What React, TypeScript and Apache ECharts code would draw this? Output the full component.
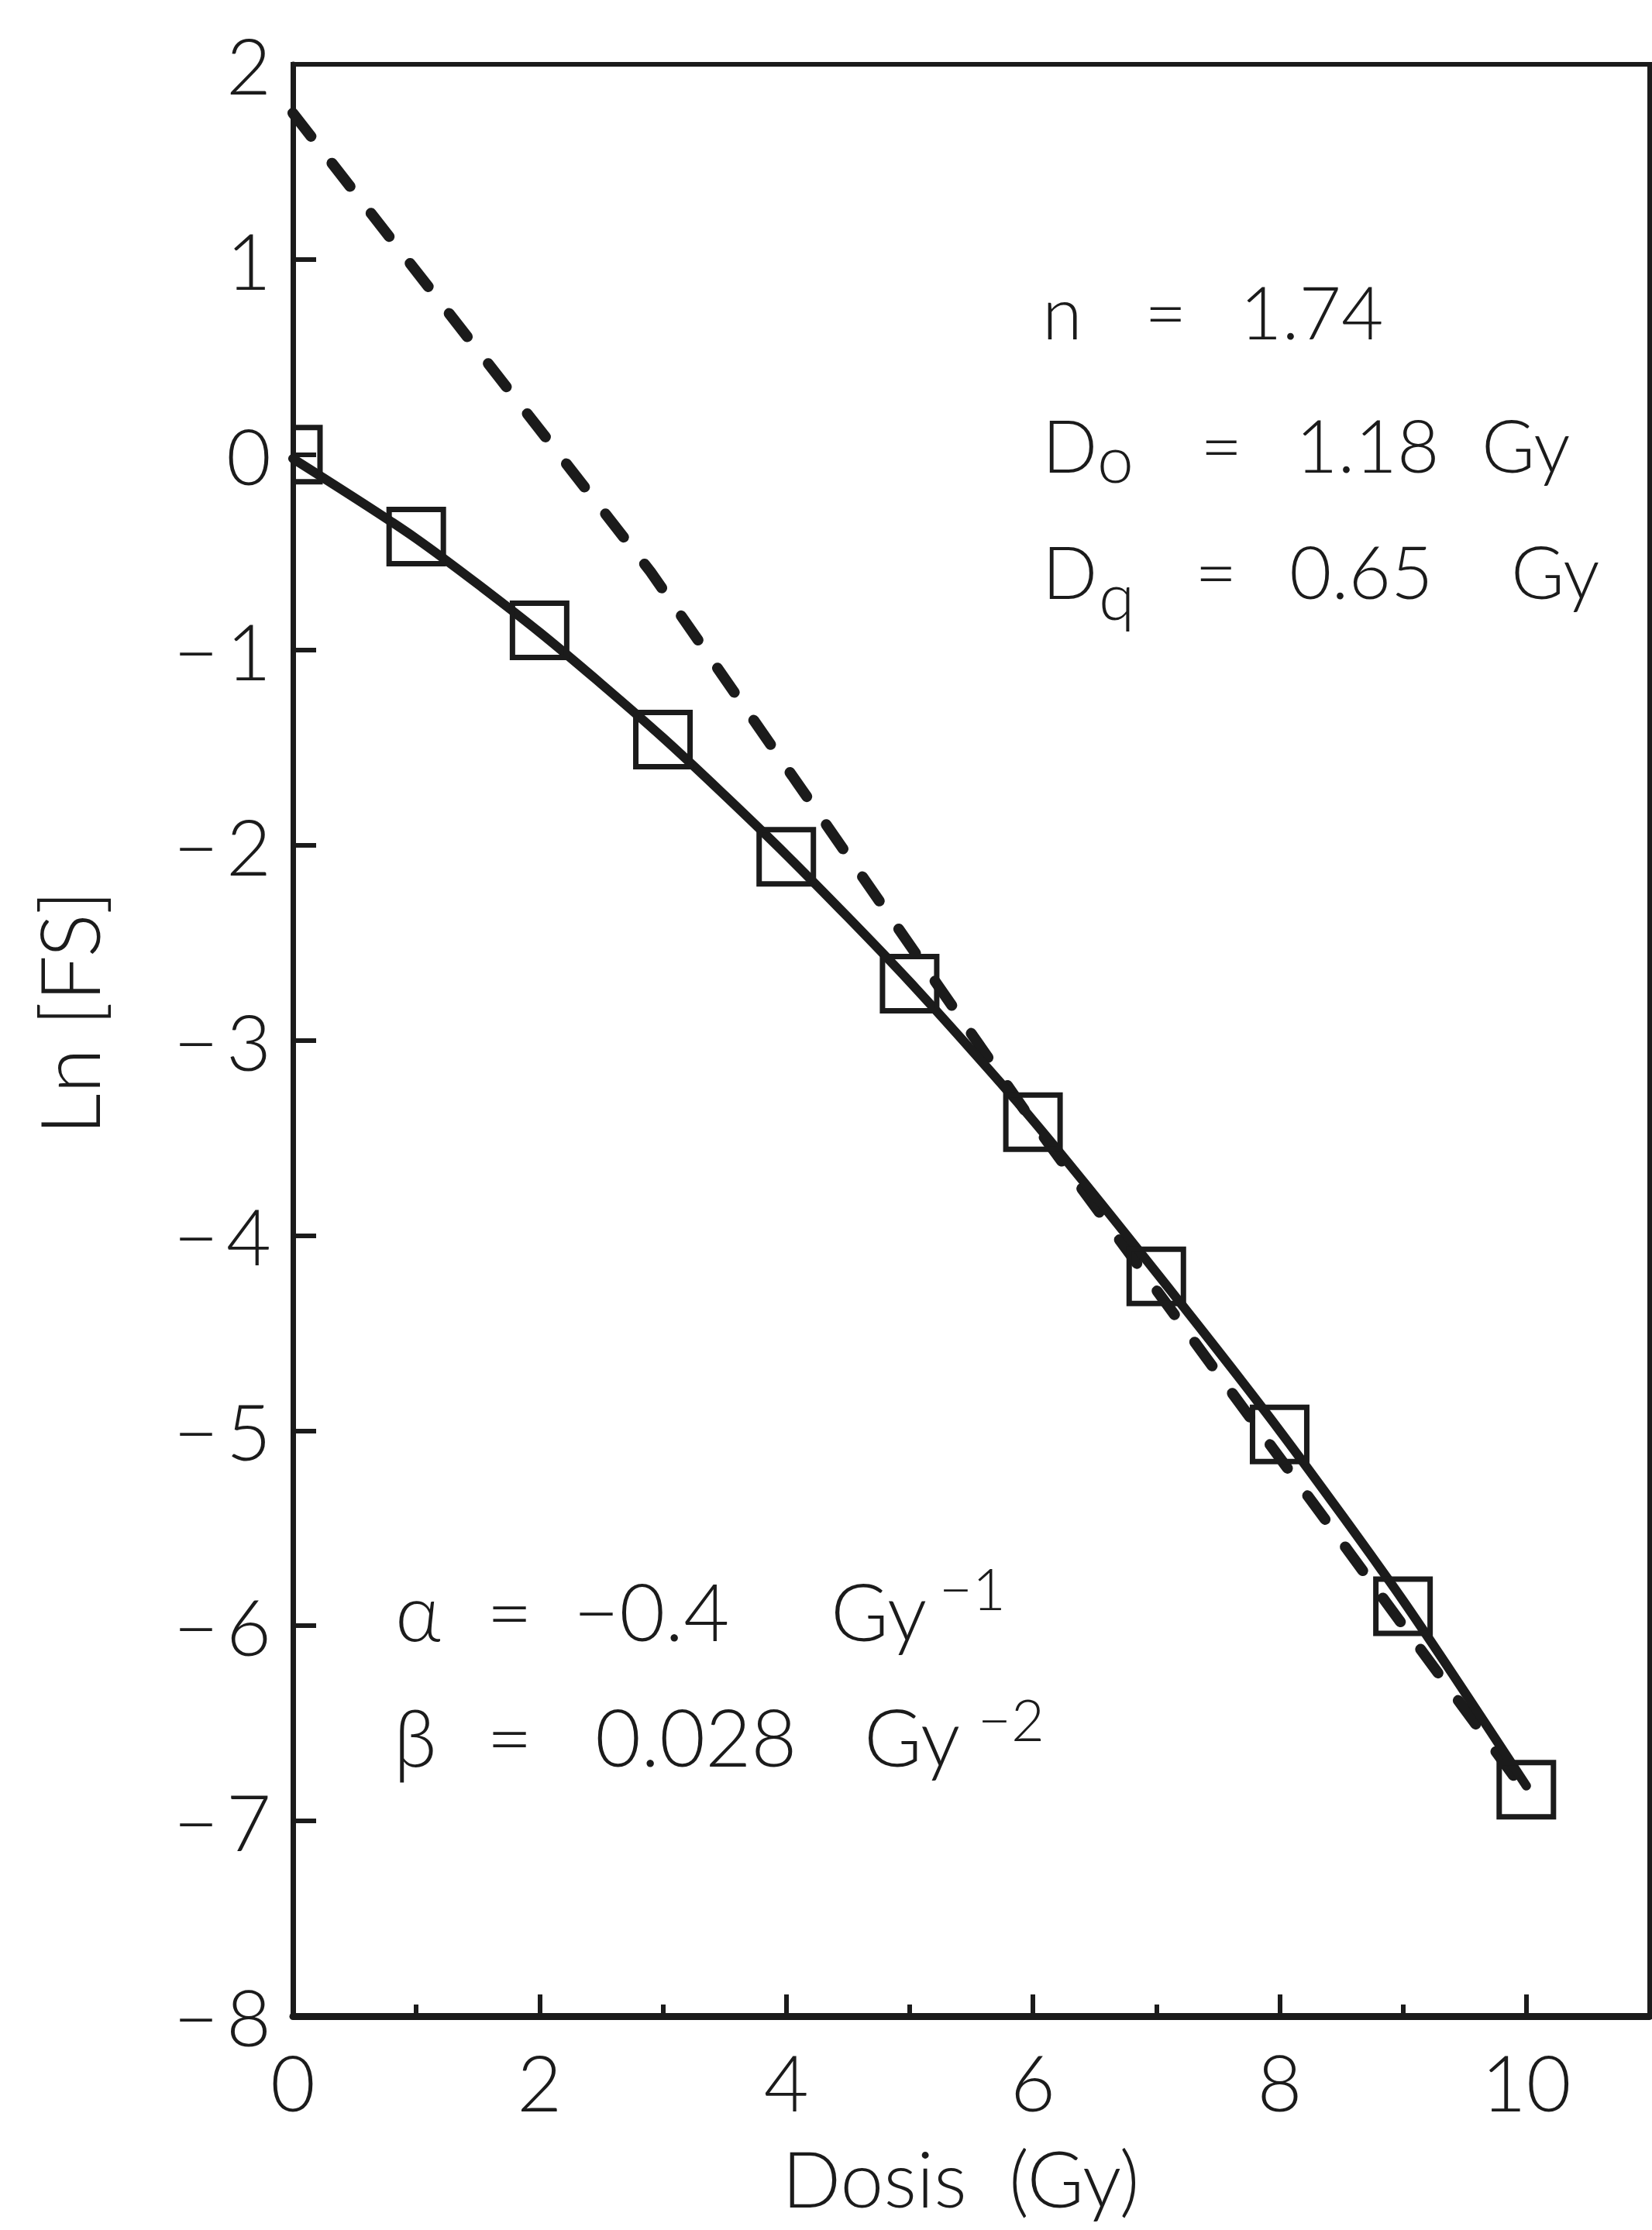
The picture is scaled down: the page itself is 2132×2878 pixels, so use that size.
import React, { useEffect, useRef } from "react";
import * as echarts from "echarts";

// Measured survival (natural log of surviving fraction) per dose
const doses = [0, 1, 2, 3, 4, 5, 6, 7, 8, 9, 10];
const lnSurvival = [0.0, -0.42, -0.9, -1.46, -2.06, -2.71, -3.42, -4.21, -5.02, -5.9, -6.84];

// Linear-quadratic fit curve
const lqFitDose = [0, 1, 2, 3, 4, 5, 6, 7, 8, 9, 10];
const lqFitLnS = [-0.02, -0.43, -0.91, -1.45, -2.05, -2.7, -3.41, -4.19, -5.0, -5.87, -6.82];

// Multi-target extrapolation line
const mtDose = [0, 2.9, 6.0, 10.05];
const mtLnS = [1.75, -0.6, -3.42, -6.9];

// Axis ticks
const xTickLabels = [0, 2, 4, 6, 8, 10];
const yTicks = [2, 1, 0, -1, -2, -3, -4, -5, -6, -7, -8];

// Parameter annotations: [text, left x, centre y, font size]
const paramTokens: [string, number, number, number][] = [
  ["n", 1345, 401, 94],
  ["=", 1477, 401, 94],
  ["1.74", 1600, 401, 94],
  ["D", 1345, 573, 94],
  ["o", 1416, 590, 84],
  ["=", 1549, 573, 94],
  ["1.18", 1672, 573, 94],
  ["Gy", 1912, 573, 94],
  ["D", 1345, 736, 94],
  ["q", 1418, 767, 84],
  ["=", 1542, 736, 94],
  ["0.65", 1664, 736, 94],
  ["Gy", 1950, 736, 94],
  ["α", 510, 2078, 102],
  ["=", 628, 2078, 102],
  ["−0.4", 740, 2078, 102],
  ["Gy", 1072, 2078, 102],
  ["−1", 1212, 2049, 74],
  ["β", 508, 2240, 102],
  ["=", 628, 2240, 102],
  ["0.028", 768, 2240, 102],
  ["Gy", 1115, 2240, 102],
  ["−2", 1262, 2218, 74],
];

const FONT = "Lato, 'Open Sans', Roboto, sans-serif";
const WEIGHT = 300;
const INK = "#1b1b1b";

function pairs(xs: number[], ys: number[]) {
  return xs.map((x, i) => [x, ys[i]]);
}

export default function App() {
  const ref = useRef<HTMLDivElement>(null);

  useEffect(() => {
    if (!ref.current) return;
    const chart = echarts.init(ref.current, undefined, { renderer: "svg" });

    const textStyle = { fontFamily: FONT, fontWeight: WEIGHT, color: INK };

    const option: any = {
      animation: false,
      backgroundColor: "#ffffff",
      grid: {
        left: 378,
        top: 83,
        width: 1752,
        height: 2519,
        show: true,
        borderColor: INK,
        borderWidth: 6,
        backgroundColor: "transparent",
      },
      xAxis: [
        {
          type: "value",
          min: 0,
          max: 11,
          interval: 2,
          position: "bottom",
          axisLine: { show: true, onZero: false, lineStyle: { color: INK, width: 9 } },
          axisTick: { show: true, inside: true, length: 28, lineStyle: { color: INK, width: 6 } },
          axisLabel: {
            ...textStyle,
            fontSize: 100,
            margin: 34,
            formatter: (v: number) => (xTickLabels.includes(v) ? String(v) : ""),
          },
          splitLine: { show: false },
        },
        {
          type: "value",
          min: 0,
          max: 11,
          interval: 1,
          position: "bottom",
          axisLine: { show: false, onZero: false },
          axisTick: { show: true, inside: true, length: 15, lineStyle: { color: INK, width: 6 } },
          axisLabel: { show: false },
          splitLine: { show: false },
        },
      ],
      yAxis: {
        type: "value",
        min: -8,
        max: 2,
        interval: 1,
        axisLine: { show: true, onZero: false, lineStyle: { color: INK, width: 7 } },
        axisTick: { show: true, inside: true, length: 30, lineStyle: { color: INK, width: 6 } },
        axisLabel: {
          ...textStyle,
          fontSize: 100,
          margin: 28,
          formatter: (v: number) => {
            if (!yTicks.includes(v)) return "";
            return v < 0 ? `{m|−}{d|${-v}}` : `{d|${v}}`;
          },
          rich: {
            m: { ...textStyle, fontSize: 100, padding: [0, 10, 0, 0] },
            d: { ...textStyle, fontSize: 100 },
          },
        },
        splitLine: { show: false },
      },
      series: [
        {
          name: "multi-target",
          type: "line",
          xAxisIndex: 0,
          data: pairs(mtDose, mtLnS),
          showSymbol: false,
          z: 2,
          lineStyle: { color: INK, width: 14, type: [38, 44], cap: "round" },
        },
        {
          name: "LQ fit",
          type: "line",
          xAxisIndex: 0,
          data: pairs(lqFitDose, lqFitLnS),
          smooth: 0.25,
          showSymbol: false,
          z: 3,
          lineStyle: { color: INK, width: 12, cap: "round" },
        },
        {
          name: "survival",
          type: "custom",
          xAxisIndex: 0,
          clip: true,
          z: 4,
          data: pairs(doses, lnSurvival),
          renderItem: (_params: any, api: any) => {
            const p = api.coord([api.value(0), api.value(1)]);
            const s = 70;
            return {
              type: "rect",
              shape: { x: p[0] - s / 2, y: p[1] - s / 2, width: s, height: s },
              style: { fill: "none", stroke: INK, lineWidth: 7 },
            };
          },
        },
      ],
      graphic: [
        {
          type: "text",
          x: 1240,
          y: 2810,
          style: {
            text: "Dosis  (Gy)",
            font: `${WEIGHT} 100px ${FONT}`,
            fill: INK,
            align: "center",
            verticalAlign: "middle",
          },
        },
        {
          type: "text",
          x: 88,
          y: 1307,
          rotation: Math.PI / 2,
          style: {
            text: "Ln [FS]",
            font: `${WEIGHT} 106px ${FONT}`,
            fill: INK,
            align: "center",
            verticalAlign: "middle",
          },
        },
        ...paramTokens.map(([t, x, y, fs]) => ({
          type: "text",
          x,
          y,
          style: {
            text: t,
            font: `${WEIGHT} ${fs}px ${FONT}`,
            fill: INK,
            align: "left",
            verticalAlign: "middle",
          },
        })),
      ],
    };

    chart.setOption(option);
    return () => chart.dispose();
  }, []);

  return (
    <div
      ref={ref}
      style={{ position: "absolute", left: 0, top: 0, width: 2132, height: 2878, background: "#fff" }}
    />
  );
}
